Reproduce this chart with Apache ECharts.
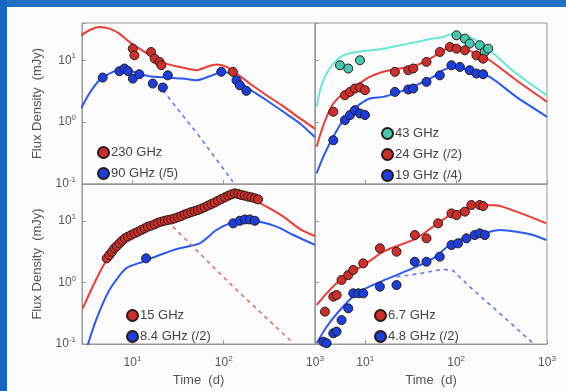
<!DOCTYPE html>
<html><head><meta charset="utf-8">
<script src="https://cdn.jsdelivr.net/npm/echarts@6/dist/echarts.min.js"></script>
<style>html,body{margin:0;padding:0;background:#fcfcfc}#c{width:566px;height:391px}</style>
</head><body><div id="c"></div>
<script>
// ---------- data: [time (d), flux density (mJy)] ----------
// top-left: 230 GHz and 90 GHz (/5)
const tlRedModel = [[2.73,25.3],[3.37,30.5],[4.34,34.4],[5.58,32.4],[7.19,26.9],[9.27,19.7],[11.9,15.4],[16.7,11.3],[23.4,8.8],[32.8,7.8],[50.1,6.9],[64.5,7.8],[83.2,8.5],[107,7.8],[138,6.1],[193,4.2],[294,2.72],[449,1.8],[684,1.15],[1000,0.78]];
const tlRedPts = [[10.1,15.4],[10.5,12.0],[16.0,13.6],[17.5,10.6],[19.8,9.4],[20.7,8.3],[126,6.5]];
const tlBlueModel = [[2.73,1.66],[3.37,2.9],[4.34,4.75],[5.58,6.1],[7.19,6.9],[10.1,6.5],[15.4,5.5],[23.4,5.25],[35.7,5.05],[50.1,4.75],[70.1,5.5],[98,6.5],[126,5.7],[177,3.7],[294,2.26],[449,1.47],[684,0.95],[1000,0.57]];
const tlBluePts = [[4.72,5.25],[7.19,6.65],[8.17,7.35],[8.9,6.7],[10.1,5.05],[11.9,5.95],[16.7,4.2],[21.5,3.63],[24.4,5.7],[94,6.5],[138,4.75],[150,3.95],[177,3.2]];
const tlBlueDash = [[21.5,3.28],[54.5,0.58],[126,0.109]];
// top-right: 43 GHz, 24 GHz (/2), 19 GHz (/4)
const trCyanModel = [[2.92,1.77],[3.18,3.28],[3.6,5.38],[4.45,8.83],[5.73,12.0],[8.02,13.6],[15.8,15.4],[24,17.5],[36.6,19.7],[55.9,22.4],[71.9,23.8],[92.6,26.9],[119,25.3],[167,21.0],[234,14.5],[460,6.1],[1000,2.7]];
const trCyanPts = [[5.27,8.3],[6.5,7.35],[8.75,10],[101,25.3],[125,22.4],[141,18.6],[182,17.5],[206,13.6],[225,15.4]];
const trRedModel = [[2.92,0.4],[3.31,0.74],[3.76,1.22],[4.45,2.0],[5.73,2.9],[8.02,3.95],[11.2,5.38],[15.8,6.5],[24,7.35],[36.6,8.3],[55.9,11.3],[71.9,14.5],[92.6,16.4],[119,15.4],[167,12.8],[234,10],[460,4.75],[1000,2.13]];
const trRedPts = [[4.45,1.47],[5.98,2.72],[6.79,3.08],[7.7,3.49],[8.75,3.63],[9.93,3.28],[21.2,6.5],[29.7,6.9],[33.7,7.35],[47.2,9.4],[66.2,13.6],[85.3,16.4],[101,15.4],[125,14.5],[167,12.0],[198,10.6]];
const trBlueModel = [[2.92,0.149],[3.45,0.275],[4.45,0.58],[5.73,1.08],[8.02,1.77],[11.2,2.41],[15.8,2.56],[24,3.08],[36.6,3.95],[55.9,5.38],[71.9,6.9],[92.6,7.8],[141,6.9],[234,5.38],[460,2.56],[1000,1.22]];
const trBluePts = [[4.45,0.51],[5.98,1.08],[6.79,1.3],[7.7,1.56],[8.75,1.38],[9.93,1.3],[21.2,3.08],[29.7,3.37],[33.7,3.49],[47.2,4.47],[66.2,5.7],[88.8,8.3],[110,7.8],[141,6.9],[167,6.1],[198,5.95]];
// bottom-left: 15 GHz and 8.4 GHz (/2)
const blRedModel = [[2.85,0.38],[3.66,0.855],[4.72,1.81],[6.08,3.17],[8.53,5.24],[13.0,7.6],[19.8,9.75],[32.8,11.8],[54.5,15.1],[83.2,21.9],[126,28.2],[193,23.4],[294,17.1],[449,11.8],[684,7.4],[1000,5.7]];
const blRedPts = [[5.22,2.47],[5.59,2.8],[5.98,3.17],[6.34,3.6],[6.73,3.92],[7.2,4.33],[7.7,4.79],[8.24,5.23],[8.89,5.56],[9.67,5.92],[10.5,6.3],[11.5,6.71],[12.5,7.14],[13.6,7.6],[14.7,8.09],[16.0,8.4],[17.5,8.83],[19.0,9.4],[20.7,9.75],[22.5,10.1],[24.5,10.4],[26.6,10.6],[28.9,11.0],[31.5,11.5],[34.3,12.1],[37.3,12.8],[40.5,13.3],[44.1,14.0],[48.0,14.5],[52.2,15.1],[56.8,15.9],[61.8,16.7],[67.3,17.8],[73.2,18.9],[79.6,19.9],[86.6,21.4],[94.3,22.8],[103,24.3],[112,25.8],[121,27.1],[132,28.2],[144,27.5],[156,26.5],[170,25.8],[185,24.9],[201,24.3],[219,23.4],[238,22.5]];
const blRedDash = [[27.7,8.09],[127,0.855],[578,0.103]];
const blBlueModel = [[3.15,0.085],[3.99,0.245],[5.59,0.755],[8.52,1.7],[13.0,2.18],[19.8,2.8],[32.9,3.6],[54.5,4.33],[83.1,7.14],[116,9.16],[163,10.4],[249,9.75],[379,8.09],[578,5.92],[1000,4.08]];
const blBluePts = [[14.1,2.47],[127,9.16],[150,10.1],[170,10.6],[193,10.6],[219,10.1]];
// bottom-right: 6.7 GHz and 4.8 GHz (/2)
const brRedModel = [[2.92,0.431],[3.76,0.667],[4.84,0.969],[6.79,1.41],[10.3,2.05],[15.8,3.17],[24.0,4.07],[36.6,5.23],[55.9,8.09],[85.2,12.5],[130,16.1],[198,18.2],[302,17.5],[460,14.2],[645,11.8],[984,9.16]];
const brRedPts = [[3.6,0.336],[4.45,0.589],[4.84,0.626],[5.49,1.1],[6.5,1.32],[7.38,1.6],[9.5,2.05],[14.5,3.6],[22.1,3.17],[35.1,5.92],[47.2,5.23],[63.4,9.16],[88.9,13.3],[101,12.5],[125,14.2],[147,18.2],[182,18.2],[198,17.5]];
const brBlueModel = [[2.92,0.103],[3.76,0.191],[5.27,0.357],[8.03,0.667],[13.3,0.969],[22.1,1.32],[36.6,1.81],[55.9,2.47],[85.2,4.07],[130,5.56],[198,6.3],[302,7.14],[460,6.71],[702,5.92],[984,4.91]];
const brBluePts = [[3.46,0.109],[3.76,0.103],[4.45,0.149],[4.84,0.159],[5.49,0.245],[6.5,0.38],[7.38,0.667],[8.38,0.667],[9.5,0.667],[14.5,0.855],[22.1,0.91],[35.1,2.18],[47.2,2.18],[66.1,2.63],[88.9,4.07],[105,4.33],[130,5.23],[160,5.92],[182,6.3],[207,5.92]];
const brBlueDash = [[22.1,1.24],[36.6,1.37],[72,1.64],[92.7,1.56],[141,0.855],[302,0.315],[702,0.103]];

const legendTL = ['230 GHz','90 GHz (/5)'];
const legendTR = ['43 GHz','24 GHz (/2)','19 GHz (/4)'];
const legendBL = ['15 GHz','8.4 GHz (/2)'];
const legendBR = ['6.7 GHz','4.8 GHz (/2)'];
const timeRange = [2.8, 1000];
const fluxRange = [0.1, 40];

// ---------- styles ----------
const RED_LINE = '#ee3b33', BLUE_LINE = '#2a5af2', CYAN_LINE = '#6ae6d6';
const RED_DOT = '#cf2f2a', BLUE_DOT = '#1a3fdc', CYAN_DOT = '#45c7b0';
const FONT = 'Liberation Sans, Arial, sans-serif';

function powLabel(v){
  const l = Math.log10(v), r = Math.round(l);
  if (Math.abs(l - r) > 1e-3) return '';
  return '{b|10}{s|' + r + '}';
}
const tickLabel = {
  color:'#555', fontFamily:FONT, formatter: powLabel,
  rich:{ b:{fontSize:12, color:'#555', fontFamily:FONT}, s:{fontSize:8, color:'#555', fontFamily:FONT, padding:[0,0,8,0]} }
};
const gridsPos = [
  {left:82, top:23, width:233, height:161},
  {left:315, top:23, width:232, height:161},
  {left:82, top:184, width:233, height:160},
  {left:315, top:184, width:232, height:160}
];
const grid = gridsPos.map(g => Object.assign({show:true, borderColor:'#9a9a9a', borderWidth:1, backgroundColor:'transparent'}, g));
const axisCommon = {
  axisLine:{show:true, lineStyle:{color:'#9a9a9a', width:1}},
  axisTick:{show:true, inside:true, length:4, lineStyle:{color:'#9a9a9a'}},
  splitLine:{show:false}
};
const xAxis = [0,1,2,3].map(i => Object.assign({}, axisCommon, {
  type:'log', logBase:10, gridIndex:i, min:timeRange[0], max:timeRange[1],
  axisLabel: i >= 2 ? Object.assign({margin:11}, tickLabel) : {show:false},
  name: i >= 2 ? 'Time  (d)' : '', nameLocation:'middle', nameGap:30,
  nameTextStyle:{color:'#555', fontSize:13, fontFamily:FONT}
}));
const yAxis = [0,1,2,3].map(i => Object.assign({}, axisCommon, {
  type:'log', logBase:10, gridIndex:i, min:fluxRange[0], max:fluxRange[1],
  axisLabel: i % 2 === 0 ? Object.assign({margin:6}, tickLabel) : {show:false},
  name: i % 2 === 0 ? 'Flux Density  (mJy)' : '', nameLocation:'middle', nameGap:38,
  nameTextStyle:{color:'#555', fontSize:13, fontFamily:FONT}
}));

function model(idx, data, color, name){
  return {type:'line', name:name, xAxisIndex:idx, yAxisIndex:idx, data:data, showSymbol:false, smooth:0.25,
    lineStyle:{color:color, width:2}, z:2, silent:true};
}
function dashed(idx, data, color){
  return {type:'line', xAxisIndex:idx, yAxisIndex:idx, data:data, showSymbol:false,
    lineStyle:{color:color, width:1.6, type:[4,4]}, z:2, silent:true};
}
function pts(idx, data, color, name, size){
  return {type:'scatter', name:name, xAxisIndex:idx, yAxisIndex:idx, data:data, symbol:'circle', symbolSize:size||9,
    itemStyle:{color:color, borderColor:'#2a1a1a', borderWidth:1, opacity:1}, z:3, silent:true};
}

const series = [
  model(0, tlRedModel, RED_LINE, 'm230'), model(0, tlBlueModel, BLUE_LINE, 'm90'), dashed(0, tlBlueDash, '#6a78ee'),
  pts(0, tlRedPts, RED_DOT, legendTL[0]), pts(0, tlBluePts, BLUE_DOT, legendTL[1]),
  model(1, trCyanModel, CYAN_LINE, 'm43'), model(1, trRedModel, RED_LINE, 'm24'), model(1, trBlueModel, BLUE_LINE, 'm19'),
  pts(1, trCyanPts, CYAN_DOT, legendTR[0]), pts(1, trRedPts, RED_DOT, legendTR[1]), pts(1, trBluePts, BLUE_DOT, legendTR[2]),
  model(2, blRedModel, RED_LINE, 'm15'), model(2, blBlueModel, BLUE_LINE, 'm84'), dashed(2, blRedDash, '#e0706a'),
  pts(2, blRedPts, RED_DOT, legendBL[0]), pts(2, blBluePts, BLUE_DOT, legendBL[1]),
  model(3, brRedModel, RED_LINE, 'm67'), model(3, brBlueModel, BLUE_LINE, 'm48'), dashed(3, brBlueDash, '#6a78ee'),
  pts(3, brRedPts, RED_DOT, legendBR[0]), pts(3, brBluePts, BLUE_DOT, legendBR[1])
];

const legendCommon = {orient:'vertical', icon:'circle', itemWidth:11, itemHeight:11, itemGap:8, padding:0,
  selectedMode:false, textStyle:{fontSize:13, color:'#444', fontFamily:FONT, padding:[0,0,0,-3]}};
const legend = [
  Object.assign({data:legendTL, left:97, top:146}, legendCommon),
  Object.assign({data:legendTR, left:381, top:127}, legendCommon),
  Object.assign({data:legendBL, left:126, top:309}, legendCommon),
  Object.assign({data:legendBR, left:374, top:309}, legendCommon)
];

const chart = echarts.init(document.getElementById('c'));
chart.setOption({
  animation:false,
  backgroundColor:'#fcfcfc',
  graphic:[
    {type:'rect', silent:true, shape:{x:0,y:0,width:566,height:7}, style:{fill:'#2370c3'}},
    {type:'rect', silent:true, shape:{x:0,y:0,width:7,height:391}, style:{fill:'#1767c6'}}
  ],
  grid:grid, xAxis:xAxis, yAxis:yAxis, legend:legend, series:series
});
</script></body></html>
